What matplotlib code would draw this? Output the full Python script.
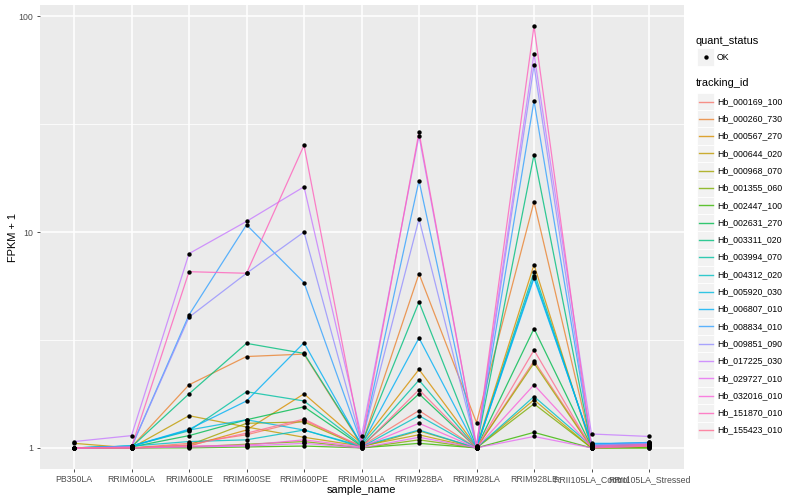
import numpy as np
import matplotlib
matplotlib.use("Agg")
import matplotlib.pyplot as plt
from matplotlib.patches import Rectangle
from matplotlib.lines import Line2D

plt.rcParams['font.family'] = ['Liberation Sans', 'DejaVu Sans']

samples = ["PB350LA", "RRIM600LA", "RRIM600LE", "RRIM600SE", "RRIM600PE",
           "RRIM901LA", "RRIM928BA", "RRIM928LA", "RRIM928LE",
           "RRII105LA_Control", "RRII105LA_Stressed"]

tracking_ids = ["Hb_000169_100", "Hb_000260_730", "Hb_000567_270", "Hb_000644_020",
                "Hb_000968_070", "Hb_001355_060", "Hb_002447_100", "Hb_002631_270",
                "Hb_003311_020", "Hb_003994_070", "Hb_004312_020", "Hb_005920_030",
                "Hb_006807_010", "Hb_008834_010", "Hb_009851_090", "Hb_017225_030",
                "Hb_029727_010", "Hb_032016_010", "Hb_151870_010", "Hb_155423_010"]

# FPKM + 1, one row per tracking id, columns follow samples
fpkm_plus1 = [
    [1.00, 1.00, 1.05, 1.15, 1.34, 1.02, 1.49, 1.00, 2.53, 1.01, 1.03],
    [1.00, 1.01, 1.96, 2.65, 2.72, 1.03, 6.41, 1.31, 13.8, 1.02, 1.04],
    [1.00, 1.00, 1.02, 1.21, 1.78, 1.05, 2.31, 1.01, 7.06, 1.00, 1.02],
    [1.05, 1.00, 1.41, 1.25, 1.12, 1.02, 1.15, 1.00, 1.67, 1.00, 1.05],
    [1.00, 1.00, 1.03, 1.30, 1.32, 1.01, 1.20, 1.00, 2.47, 1.00, 1.01],
    [1.00, 1.00, 1.01, 1.04, 1.07, 1.00, 1.09, 1.00, 1.60, 1.00, 1.00],
    [1.00, 1.00, 1.00, 1.01, 1.02, 1.00, 1.05, 1.00, 1.18, 1.00, 1.00],
    [1.00, 1.01, 1.14, 1.35, 1.55, 1.02, 1.78, 1.00, 3.57, 1.01, 1.02],
    [1.00, 1.01, 1.78, 3.05, 2.74, 1.04, 4.74, 1.01, 22.8, 1.02, 1.03],
    [1.00, 1.02, 1.20, 1.82, 1.65, 1.03, 2.06, 1.00, 6.53, 1.03, 1.04],
    [1.00, 1.02, 1.07, 1.09, 1.21, 1.01, 1.41, 1.00, 1.73, 1.02, 1.05],
    [1.00, 1.02, 1.21, 1.35, 1.21, 1.02, 1.21, 1.00, 6.25, 1.04, 1.06],
    [1.00, 1.02, 1.22, 1.65, 3.07, 1.03, 3.23, 1.00, 6.10, 1.05, 1.05],
    [1.00, 1.01, 4.13, 10.8, 5.83, 1.05, 17.3, 1.01, 40.5, 1.04, 1.06],
    [1.00, 1.01, 4.03, 6.44, 10.0, 1.06, 11.5, 1.01, 59.1, 1.03, 1.05],
    [1.07, 1.14, 7.94, 11.2, 16.2, 1.13, 27.9, 1.02, 66.9, 1.16, 1.13],
    [1.00, 1.00, 1.01, 1.02, 1.05, 1.00, 1.12, 1.00, 1.13, 1.00, 1.02],
    [1.00, 1.00, 1.02, 1.03, 1.09, 1.01, 1.30, 1.00, 1.96, 1.01, 1.03],
    [1.00, 1.01, 6.55, 6.44, 25.2, 1.05, 29.0, 1.02, 89.9, 1.02, 1.04],
    [1.00, 1.00, 1.03, 1.17, 1.36, 1.01, 1.86, 1.00, 2.84, 1.00, 1.02],
]

colors = ["#F8766D", "#EA8331", "#D89000", "#C09B00", "#A3A500", "#7CAE00",
          "#39B600", "#00BB4E", "#00BF7D", "#00C1A3", "#00BFC4", "#00BAE0",
          "#00B0F6", "#35A2FF", "#9590FF", "#C77CFF", "#E76BF3", "#FA62DB",
          "#FF62BC", "#FF6C91"]

LINE_ALPHA = 0.8
W, H = 800, 500

fig = plt.figure(figsize=(8, 5), dpi=100)
ax = fig.add_axes([39.5 / W, 31 / H, 644 / W, 464 / H])
ax.set_facecolor("#EBEBEB")

x = np.arange(len(samples))
data = np.array(fpkm_plus1)
for vals, col in zip(data, colors):
    ax.plot(x, vals, color=col, lw=0.9, alpha=LINE_ALPHA, zorder=3)
for vals in data:
    ax.scatter(x, vals, s=10, color="black", marker="o", zorder=4, linewidths=0)

ax.set_yscale("log")
lo, hi = np.log10(data.min()), np.log10(data.max())
pad = 0.05 * (hi - lo)
ax.set_ylim(10 ** (lo - pad), 10 ** (hi + pad))
ax.set_xlim(-0.6, len(samples) - 0.4)

ax.set_yticks([1, 10, 100])
ax.set_yticklabels(["1", "10", "100"])
ax.set_yticks([10 ** 0.5, 10 ** 1.5], minor=True)
ax.yaxis.set_minor_formatter(matplotlib.ticker.NullFormatter())
ax.set_xticks(x)
ax.set_xticklabels(samples)

ax.grid(True, which="major", color="white", lw=1.1, zorder=0)
ax.grid(True, which="minor", axis="y", color="white", lw=0.55, zorder=0)
ax.set_axisbelow(True)
for s in ax.spines.values():
    s.set_visible(False)
ax.tick_params(axis="both", which="major", length=2.5, width=0.6, color="#333333",
               labelsize=6.3, labelcolor="#4D4D4D", pad=2)
ax.tick_params(axis="y", which="minor", length=0)
ax.set_xlabel("sample_name", fontsize=7.9, va="center")
ax.set_ylabel("FPKM + 1", fontsize=7.9, va="center")
ax.xaxis.set_label_coords(0.5, -21 / 464)
ax.yaxis.set_label_coords(-26.5 / 644, 0.5)

# legends drawn in pixel coordinates
lg = fig.add_axes([0, 0, 1, 1])
lg.set_xlim(0, W)
lg.set_ylim(H, 0)
lg.axis("off")

key_x, key_w, key_h = 697, 17, 17.3
text_x = 717
lg.text(key_x - 1, 41, "quant_status", fontsize=7.9, va="center", ha="left")
lg.add_patch(Rectangle((key_x, 57 - key_h / 2), key_w, key_h, facecolor="#F2F2F2",
                       edgecolor="white", lw=0.6))
lg.scatter([key_x + key_w / 2], [57], s=10, color="black", linewidths=0)
lg.text(text_x, 57, "OK", fontsize=6.3, va="center", ha="left")

lg.text(key_x - 1, 83, "tracking_id", fontsize=7.9, va="center", ha="left")
y0 = 101.5
for i, (name, col) in enumerate(zip(tracking_ids, colors)):
    yc = y0 + i * key_h
    lg.add_patch(Rectangle((key_x, yc - key_h / 2), key_w, key_h, facecolor="#F2F2F2",
                           edgecolor="white", lw=0.6))
    lg.add_line(Line2D([key_x + 1.5, key_x + key_w - 1.5], [yc, yc], color=col,
                       lw=1.0, alpha=LINE_ALPHA))
    lg.text(text_x, yc, name, fontsize=6.3, va="center", ha="left")

fig.savefig("out.png", dpi=100)
